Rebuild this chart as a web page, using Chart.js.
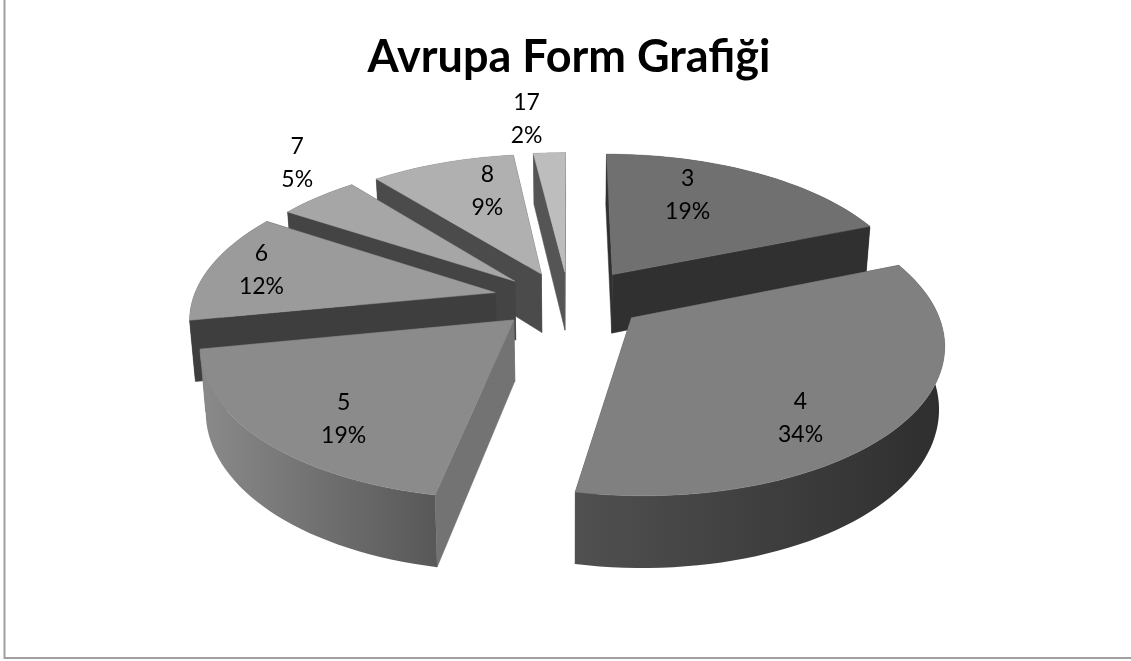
<!DOCTYPE html>
<html><head><meta charset="utf-8">
<script src="https://cdn.jsdelivr.net/npm/chart.js@4/dist/chart.umd.min.js"></script>
<style>html,body{margin:0;padding:0;background:#fff}canvas{display:block}</style>
</head><body>
<canvas id="c" width="1131" height="661"></canvas>
<script>
const categories = ['3','4','5','6','7','8','17'];
const percents = [19,34,19,12,5,9,2];
const explodeOffsets = [20,20,20,20,20,20,20];
const topColors = ['#707070','#808080','#8b8b8b','#9b9b9b','#a6a6a6','#b0b0b0','#bdbdbd'];
const cutColors = ['#303030','#404040','#737373','#3e3e3e','#444444','#4b4b4b','#555555'];
const wallFrom = ['#303030','#505050','#8a8a8a','#3e3e3e','#444444','#4b4b4b','#555555'];
const wallTo = ['#303030','#2e2e2e','#585858','#3e3e3e','#444444','#4b4b4b','#555555'];
const sliceShiftX = [-6,-7,3,6,5,2,-2];
const sliceShiftY = [-1,0,0,-1,1,1,1];
const labelNudgeX = [-34,-21,3,-27,-71,20,-29];
const labelNudgeY = [-7,28,18,-5,-57,-1,-65];

const view = {cx:572, cy:299, A:145, B:302, p:0.15, depth:60, taper:0.015, xExplode:1.4, labelR:0.7, lineH:33};
const TAU = Math.PI*2;

function project(X,Z,h,sx,sy){
  const f = 1+view.p*Z;
  return {x:view.cx+view.B*X/f*(1-view.taper*h)+(sx||0), y:view.cy-view.A*Z/f+h*view.depth/f+(sy||0)};
}
function poly(ctx,pts,fill){
  ctx.beginPath();
  pts.forEach((q,i)=> i?ctx.lineTo(q.x,q.y):ctx.moveTo(q.x,q.y));
  ctx.closePath();
  ctx.fillStyle=fill; ctx.fill();
  ctx.strokeStyle=typeof fill==='string'?fill:'rgba(0,0,0,0)'; ctx.lineWidth=0.5; ctx.stroke();
}
function geometry(el){
  const a0=el.startAngle+Math.PI/2, a1=el.endAngle+Math.PI/2, mid=(a0+a1)/2;
  const d=el.options.offset/100;
  const ox=d*view.xExplode*Math.sin(mid), oz=d*Math.cos(mid);
  const world=(r,a)=>[ox+r*Math.sin(a), oz+r*Math.cos(a)];
  return {a0,a1,mid,world};
}
const pie3d = {
  id:'pie3d',
  beforeDatasetDraw(chart){
    const ctx=chart.ctx, els=chart.getDatasetMeta(0).data;
    const order=els.map((el,i)=>({el,i,z:Math.cos((el.startAngle+el.endAngle)/2+Math.PI/2)})).sort((a,b)=>b.z-a.z);
    for(const {el,i} of order){
      const g=geometry(el), sx=sliceShiftX[i], sy=sliceShiftY[i];
      const n=Math.max(8,Math.ceil((g.a1-g.a0)/TAU*180));
      const rimW=[]; for(let k=0;k<=n;k++) rimW.push(g.world(1,g.a0+(g.a1-g.a0)*k/n));
      const apexW=g.world(0,0);
      const rimT=rimW.map(w=>project(w[0],w[1],0,sx,sy)), rimB=rimW.map(w=>project(w[0],w[1],1,sx,sy));
      const apT=project(apexW[0],apexW[1],0,sx,sy), apB=project(apexW[0],apexW[1],1,sx,sy);
      poly(ctx,[apT,rimT[0],rimB[0],apB],cutColors[i]);
      poly(ctx,[apT,rimT[n],rimB[n],apB],cutColors[i]);
      const xs=rimT.map(q=>q.x);
      const gr=ctx.createLinearGradient(Math.min(...xs),0,Math.max(...xs),0);
      gr.addColorStop(0,wallFrom[i]); gr.addColorStop(1,wallTo[i]);
      poly(ctx,rimT.concat(rimB.slice().reverse()),gr);
      poly(ctx,[apT].concat(rimT),topColors[i]);
    }
    return false;
  },
  afterDatasetsDraw(chart){
    const ctx=chart.ctx, els=chart.getDatasetMeta(0).data;
    ctx.save();
    ctx.fillStyle='#000'; ctx.textAlign='center'; ctx.textBaseline='middle';
    ctx.font='23px Lato';
    els.forEach((el,i)=>{
      const g=geometry(el), w=g.world(view.labelR,g.mid), q=project(w[0],w[1],0);
      const x=q.x+labelNudgeX[i], y=q.y+labelNudgeY[i];
      ctx.fillText(categories[i],x,y-view.lineH/2);
      ctx.fillText(percents[i]+'%',x,y+view.lineH/2);
    });
    ctx.restore();
  },
  afterDraw(chart){
    const ctx=chart.ctx;
    ctx.save(); ctx.strokeStyle='#a0a0a0'; ctx.lineWidth=2;
    ctx.beginPath(); ctx.moveTo(4.5,0); ctx.lineTo(4.5,658); ctx.lineTo(1131,658); ctx.stroke();
    ctx.restore();
  }
};
new Chart(document.getElementById('c'),{
  type:'pie',
  data:{labels:categories,datasets:[{data:percents,backgroundColor:topColors,offset:explodeOffsets,borderWidth:0}]},
  options:{
    responsive:false,animation:false,
    layout:{padding:{left:7}},
    plugins:{
      legend:{display:false},tooltip:{enabled:false},
      title:{display:true,text:'Avrupa Form Grafiği',color:'#000',font:{family:'Lato',size:45,weight:'bold'},padding:{top:30,bottom:10}}
    }
  },
  plugins:[pie3d]
});
</script>
</body></html>
